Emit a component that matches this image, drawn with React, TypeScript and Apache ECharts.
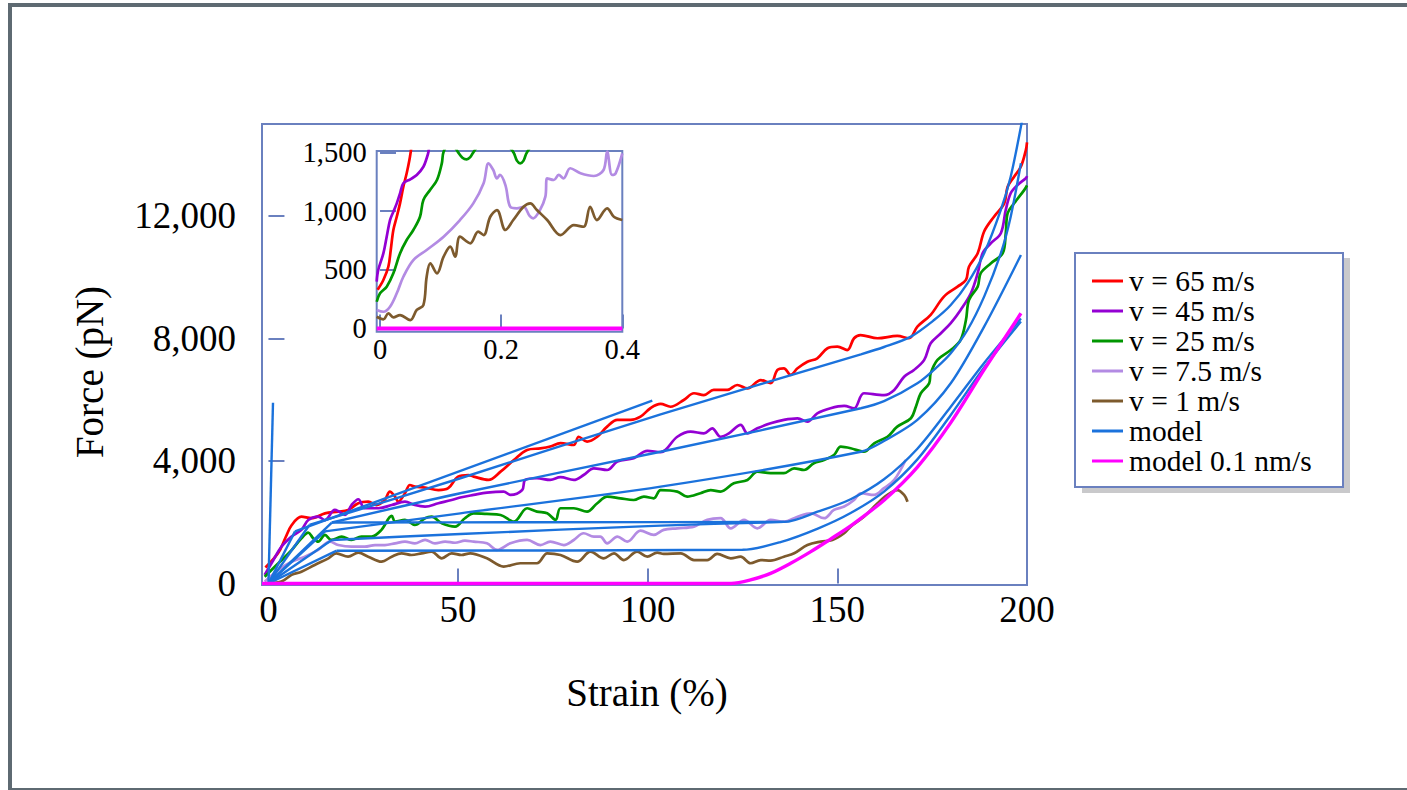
import React, { useEffect, useRef } from "react";
import * as echarts from "echarts";

// ---------------- tick labels ----------------
const mainXTicks = [0, 50, 100, 150, 200];
const mainYTicks = [0, 4000, 8000, 12000];
const insetXTicks = [0, 0.2, 0.4];
const insetYTicks = [0, 500, 1000, 1500];

const seriesNames = ["v = 65 m/s", "v = 45 m/s", "v = 25 m/s", "v = 7.5 m/s", "v = 1 m/s", "model", "model 0.1 nm/s"];

// ---------------- main chart data: [strain %, force pN] ----------------
const v65: number[][] = [[-0.8,520],[2.6,1000],[4.5,1500],[6.1,1900],[8.7,2180],[11.3,2130],[14.9,2290],[18.4,2345],[21,2400],[23.7,2620],[26.3,2670],[28.5,2560],[30.7,2730],[32,3000],[33.4,2830],[34.2,2670],[36,2945],[37.3,3215],[38.6,3160],[41.3,3130],[44.8,3050],[47.4,3110],[50,3490],[52.7,3540],[54.1,3490],[58,3380],[61.2,3650],[64.7,4030],[68.2,4360],[71.7,4410],[74.3,4470],[77,4580],[80.5,4520],[81.8,4790],[84,4630],[86.7,4790],[89.3,5120],[92,5340],[95.5,5340],[98.1,5445],[100.7,5720],[103.4,5860],[106,5770],[109.5,5990],[112.2,6210],[114.8,6150],[117.4,6320],[121,6320],[123.6,6480],[126.3,6370],[129.8,6640],[132.4,6540],[134.2,6970],[135.9,7025],[137.7,6810],[139.5,7025],[142.1,7240],[144.7,7350],[147.4,7680],[150,7730],[152.6,7620],[154.4,8005],[156.1,8110],[160.6,8005],[165.8,8080],[168.9,8005],[171.1,8385],[174.6,8770],[178.1,9365],[181.7,9690],[183.9,9910],[184.7,10340],[187,10780],[188.7,11490],[191.3,11975],[194,12410],[194.9,12955],[196.6,13280],[198.4,13610],[199.7,14150],[200,14400]];
const v45: number[][] = [[-1,280],[1,700],[3.4,1200],[6.1,1530],[8.7,1750],[10.5,2070],[13.1,2180],[14.9,2070],[17.5,2400],[20.2,2240],[21.9,2560],[23.7,2750],[25.4,2455],[29,2455],[32.5,2560],[36,2670],[38.6,2560],[41.3,2510],[44.8,2620],[48.3,2725],[50.9,2815],[54.1,2890],[57.6,2965],[62,3000],[63.8,2890],[66.9,3050],[67.7,3380],[70.8,3435],[74.3,3380],[77,3470],[80.5,3380],[83.1,3540],[85.8,3760],[89.3,3705],[92,3980],[96.3,4090],[99.9,4330],[103.4,4290],[107.8,4790],[111.3,4955],[114.8,4900],[117,5065],[119.2,4790],[121.4,4900],[124.5,5175],[126.3,4900],[128.9,5065],[132.4,5230],[135.9,5340],[139.5,5390],[142.1,5280],[144.7,5555],[148.2,5720],[151.8,5795],[154.4,5720],[157,6210],[162.3,6150],[165,6320],[167.6,6750],[170.2,6970],[172.9,7300],[174.6,7840],[177.3,8170],[179.9,8500],[182.5,8930],[185.2,9475],[187,10130],[188.3,10780],[190.5,11110],[193.1,11435],[194.4,12195],[195.7,12740],[197.5,13010],[199.7,13230],[200,13300]];
const v25: number[][] = [[-1,220],[2.6,660],[6.1,1090],[8.7,1475],[10.5,1660],[11.8,1475],[13.1,1365],[14.9,1585],[16.6,1420],[19.3,1530],[21.9,1420],[24.5,1530],[27.2,1530],[29.8,1750],[32.5,2205],[33.4,2020],[36,2075],[38.6,1910],[41.3,2130],[43,2180],[45.7,1965],[49.2,1855],[51.8,2130],[54.1,2290],[57.6,2270],[61.2,2235],[64.7,2020],[68.2,2455],[70.8,2345],[73.5,2290],[75.7,2075],[77,2455],[80.5,2455],[84,2345],[86.7,2620],[89.3,2835],[92.8,2780],[96.3,2725],[99,2835],[101.6,2780],[103.4,3050],[107.8,3000],[110.4,2835],[113.9,2945],[116.6,3050],[119.2,3000],[122.7,3270],[126.3,3380],[128.9,3650],[132.4,3600],[135.9,3600],[138.6,3760],[141.2,3705],[143.8,3925],[146.5,4030],[149.1,4195],[150.9,4465],[153.5,4415],[157,4300],[159.7,4575],[163.2,4790],[165.8,5120],[169.4,5395],[170.7,5770],[172,6210],[174.2,6535],[174.6,6860],[176.4,7300],[179.9,7620],[182.5,7950],[183.9,8600],[184.7,9255],[187,9690],[187.8,10130],[190.5,10455],[193.6,10780],[194.4,11435],[194.9,12090],[196.6,12410],[199.3,12850],[200,13000]];
const v7_5: number[][] = [[-1,60],[2.6,440],[6.1,710],[9.6,875],[13.1,1095],[16.2,1365],[18.4,1255],[21.9,1200],[25.4,1200],[28.1,1255],[30.7,1255],[33.4,1310],[36,1365],[38.6,1310],[41.3,1420],[43.9,1310],[46.6,1365],[49.2,1330],[51.8,1400],[54.1,1365],[57.6,1310],[60.3,1095],[63.8,1310],[68.2,1420],[71.7,1255],[74.3,1365],[77.9,1255],[80.5,1420],[83.1,1640],[85.8,1530],[87.5,1530],[89.3,1310],[92,1530],[94.6,1365],[98.1,1725],[101.6,1585],[104.2,1750],[107.8,1800],[112.2,1855],[115.7,2075],[119.2,2130],[121.9,1800],[125.4,2075],[128.9,1800],[132.4,2075],[135.9,2020],[139.5,2180],[143,2290],[146.5,2130],[149.1,2400],[151.8,2510],[154.4,2725],[156.2,2945],[159.7,2890],[162.3,3110],[165,3380],[168,4030]];
const v1: number[][] = [[-1,0],[3.4,60],[6.1,280],[8.7,385],[12.2,605],[15.8,820],[17.9,985],[21,875],[23.7,1005],[26.3,875],[29.8,710],[32.5,875],[35.1,985],[37.7,930],[40.4,985],[43,1040],[45.7,820],[48.3,985],[50.9,930],[53.2,985],[57.6,820],[62,550],[66.4,660],[70.8,660],[73.5,985],[77,930],[81.4,710],[84.9,1040],[88.4,820],[91.1,985],[93.7,765],[97.2,1040],[99.9,875],[102.5,1005],[104.2,965],[108.7,985],[112.2,765],[115.7,765],[118.3,965],[121.9,820],[124.5,875],[127.1,660],[129.8,765],[132.4,745],[135.9,875],[138.6,985],[142.1,1255],[145.6,1365],[148.7,1420],[151.8,1640],[153.5,1855],[157,2180],[160.6,2620],[163.2,2890],[165.8,3050],[167.6,2890],[168.5,2670]];
const slowModel: number[][] = [[-1.7,0],[122,0],[127.1,115],[132.4,330],[137.7,660],[143,1040],[148.2,1450],[153.5,1880],[162.3,2720],[171.1,3800],[179.9,5250],[188.7,6980],[198.4,8820]];

// model curves: initial linear rise, then the rest
const modelSteep: number[][] = [[0,0],[1.2,5900]];
const modelTopRise: number[][] = [[0,0],[7,1700]];
const modelTopRest: number[][] = [[7,1700],[101.2,5970]];
const model65Rise: number[][] = [[0,0],[10.8,1910]];
const model65Rest: number[][] = [[10.8,1910],[50.6,3435],[103.4,5520],[156.2,7480],[162.3,7720],[169.4,8060],[175.5,8600],[179.9,9090],[184.3,9800],[188.7,10780],[193.1,12195],[195.7,13280],[198.4,14915],[199.3,15600]];
const model45Rise: number[][] = [[0,0],[16.7,1990]];
const model45Rest: number[][] = [[16.7,1990],[50.6,2945],[103.4,4300],[156.2,5720],[162.3,5950],[171.1,6535],[176.4,7080],[179.9,7515],[184.3,8275],[188.7,9365],[193.1,10780],[195.7,11975],[198.4,13720]];
const model25Rise: number[][] = [[0,0],[14.9,1700]];
const model25Rest: number[][] = [[14.9,1700],[50.6,2290],[103.4,3160],[156.2,4300],[162.3,4650],[171.1,5340],[179.9,6535],[188.7,8385],[198.4,10725]];
const modelFlatRest: number[][] = [[16.7,1990],[70,2000],[136,2010],[145,2350],[153.5,2750],[162.3,3400],[171.1,4400],[179.9,5770],[188.7,7200],[198.4,8650]];
const model7_5Rise: number[][] = [[0,0],[16.7,1420]];
const model7_5Rest: number[][] = [[16.7,1420],[50.6,1615],[103.4,1890],[136,2010]];
const model1Rise: number[][] = [[0,0],[18,1070]];
const model1Rest: number[][] = [[18,1070],[125,1100],[135,1350],[145,1800],[153.5,2300],[162.3,3000],[171.1,4050],[179.9,5500],[188.7,7050],[198.4,8550]];

// ---------------- inset data ----------------
const in65: number[][] = [[-0.004,330],[0.0055,413],[0.0137,526],[0.0177,669],[0.022,839],[0.0276,952],[0.033,1066],[0.0385,1208],[0.044,1322],[0.0485,1435],[0.0507,1506],[0.056,1700],[0.065,2000]];
const in45: number[][] = [[-0.0055,400],[-0.003,498],[0.0055,640],[0.011,782],[0.0165,924],[0.022,995],[0.0276,1066],[0.033,1151],[0.0385,1237],[0.05,1271],[0.0606,1307],[0.0716,1378],[0.077,1450],[0.08,1506],[0.085,1700],[0.1,2000]];
const in25: number[][] = [[-0.0055,228],[0,300],[0.011,356],[0.022,470],[0.033,640],[0.044,754],[0.055,839],[0.066,952],[0.0716,1095],[0.0826,1180],[0.094,1265],[0.102,1407],[0.105,1506],[0.115,1580],[0.124,1540],[0.129,1500],[0.136,1455],[0.143,1441],[0.149,1460],[0.154,1500],[0.165,1570],[0.19,1600],[0.21,1560],[0.2204,1500],[0.226,1430],[0.2314,1407],[0.237,1430],[0.2425,1500],[0.26,1600],[0.4,1700]];
const in7_5: number[][] = [[-0.0055,158],[0.0055,143],[0.0165,186],[0.0276,300],[0.0385,441],[0.055,583],[0.077,669],[0.105,782],[0.132,924],[0.154,1066],[0.171,1237],[0.179,1407],[0.187,1350],[0.193,1279],[0.198,1308],[0.207,1222],[0.215,1037],[0.226,1024],[0.237,1037],[0.247,960],[0.253,939],[0.264,1009],[0.273,1123],[0.276,1279],[0.287,1265],[0.295,1308],[0.303,1279],[0.314,1365],[0.331,1322],[0.353,1299],[0.369,1350],[0.375,1506],[0.383,1308],[0.389,1322],[0.4,1492]];
const in1: number[][] = [[-0.0055,100],[0.0055,78],[0.0137,129],[0.022,95],[0.033,115],[0.05,72],[0.0606,158],[0.0716,200],[0.077,441],[0.083,555],[0.094,470],[0.105,612],[0.116,697],[0.124,612],[0.132,782],[0.149,726],[0.162,825],[0.171,796],[0.182,952],[0.193,1009],[0.207,839],[0.22,924],[0.237,1037],[0.248,1066],[0.259,1009],[0.276,924],[0.298,796],[0.32,881],[0.336,867],[0.347,1037],[0.358,924],[0.375,1024],[0.386,952],[0.4,924]];
const inSlow: number[][] = [[-0.0055,0],[0.4,0]];

// ---------------- styling ----------------
const FONT = '"Liberation Serif", "Times New Roman", serif';
const FRAME = "#6a80bf";
const C = {
  red: "#ff0000",
  purple: "#9400d3",
  green: "#009600",
  lavender: "#b38be3",
  brown: "#7d5a2d",
  blue: "#1b72dc",
  magenta: "#ff00ff",
};

const commas = (v: number) => String(v).replace(/\B(?=(\d{3})+(?!\d))/g, ",");

function line(name: string, data: number[][], color: string, width: number, idx: number, smooth: number | boolean, z = 2) {
  return {
    type: "line",
    name,
    data,
    xAxisIndex: idx,
    yAxisIndex: idx,
    showSymbol: false,
    symbol: "none",
    smooth,
    color,
    itemStyle: { color },
    lineStyle: { color, width },
    clip: true,
    silent: true,
    z,
  };
}

export default function App() {
  const ref = useRef<HTMLDivElement>(null);

  useEffect(() => {
    if (!ref.current) return;
    const chart = echarts.init(ref.current, undefined, { renderer: "svg" });

    const axisCommon = {
      type: "value",
      axisLine: { show: false },
      splitLine: { show: false },
    };

    const DW = 2.7; // data line width
    const MW = 2.4; // model line width

    const option = {
      animation: false,
      backgroundColor: "transparent",
      grid: [
        { left: 262, top: 124, width: 765, height: 461, show: true, borderColor: FRAME, borderWidth: 2, backgroundColor: "transparent" },
        { left: 376.7, top: 151, width: 245.6, height: 180.7, show: true, borderColor: FRAME, borderWidth: 2, backgroundColor: "#fff" },
      ],
      xAxis: [
        {
          ...axisCommon,
          gridIndex: 0,
          min: -1.7,
          max: 200,
          axisTick: { show: true, inside: true, length: 15, lineStyle: { color: FRAME, width: 2 }, customValues: mainXTicks },
          axisLabel: { customValues: mainXTicks, fontFamily: FONT, fontSize: 37, color: "#000", margin: 6 },
        },
        {
          ...axisCommon,
          gridIndex: 1,
          min: -0.0055,
          max: 0.4,
          axisTick: { show: true, inside: true, length: 14, lineStyle: { color: FRAME, width: 2 }, customValues: insetXTicks },
          axisLabel: { customValues: insetXTicks, fontFamily: FONT, fontSize: 28.5, color: "#000", margin: 3, formatter: (v: number) => String(v) },
        },
      ],
      yAxis: [
        {
          ...axisCommon,
          gridIndex: 0,
          min: -50,
          max: 15000,
          axisTick: { show: true, inside: true, length: 16, lineStyle: { color: FRAME, width: 2 }, customValues: mainYTicks },
          axisLabel: { customValues: mainYTicks, fontFamily: FONT, fontSize: 37, color: "#000", margin: 26, formatter: commas },
        },
        {
          ...axisCommon,
          gridIndex: 1,
          min: -27,
          max: 1512,
          axisTick: { show: true, inside: true, length: 16, lineStyle: { color: FRAME, width: 2 }, customValues: insetYTicks },
          axisLabel: { customValues: insetYTicks, fontFamily: FONT, fontSize: 28.5, color: "#000", margin: 10, formatter: commas },
        },
      ],
      legend: {
        data: seriesNames,
        orient: "vertical",
        left: 1092,
        top: 266,
        padding: 0,
        itemGap: 0,
        itemWidth: 31,
        itemHeight: 3,
        icon: "rect",
        selectedMode: false,
        textStyle: { fontFamily: FONT, fontSize: 29.5, lineHeight: 28.8, color: "#000", padding: [0, 0, 0, 1] },
      },
      graphic: [
        { type: "rect", z: 0, shape: { x: 1082, y: 258, width: 268, height: 235 }, style: { fill: "#c9c9cb" }, silent: true },
        { type: "rect", z: 1, shape: { x: 1075, y: 253, width: 268, height: 234 }, style: { fill: "#fff", stroke: FRAME, lineWidth: 2 }, silent: true },
        { type: "text", x: 647, y: 692, style: { text: "Strain (%)", fontFamily: FONT, fontSize: 39, fill: "#000", align: "center", verticalAlign: "middle" }, silent: true },
        { type: "text", x: 89, y: 372, rotation: Math.PI / 2, style: { text: "Force (pN)", fontFamily: FONT, fontSize: 39, fill: "#000", align: "center", verticalAlign: "middle" }, silent: true },
      ],
      series: [
        line(seriesNames[0], v65, C.red, DW, 0, 0.35),
        line(seriesNames[1], v45, C.purple, DW, 0, 0.35),
        line(seriesNames[2], v25, C.green, DW, 0, 0.35),
        line(seriesNames[3], v7_5, C.lavender, DW, 0, 0.35),
        line(seriesNames[4], v1, C.brown, DW, 0, 0.35),
        line("model", modelSteep, C.blue, MW, 0, false, 3),
        line("model", modelTopRise, C.blue, MW, 0, false, 3),
        line("model", modelTopRest, C.blue, MW, 0, false, 3),
        line("model", model65Rise, C.blue, MW, 0, false, 3),
        line("model", model65Rest, C.blue, MW, 0, 0.3, 3),
        line("model", model45Rise, C.blue, MW, 0, false, 3),
        line("model", model45Rest, C.blue, MW, 0, 0.3, 3),
        line("model", model25Rise, C.blue, MW, 0, false, 3),
        line("model", model25Rest, C.blue, MW, 0, 0.3, 3),
        line("model", modelFlatRest, C.blue, MW, 0, 0.3, 3),
        line("model", model7_5Rise, C.blue, MW, 0, false, 3),
        line("model", model7_5Rest, C.blue, MW, 0, 0.3, 3),
        line("model", model1Rise, C.blue, MW, 0, false, 3),
        line("model", model1Rest, C.blue, MW, 0, 0.3, 3),
        line(seriesNames[6], slowModel, C.magenta, 3.4, 0, 0.3, 4),
        line(seriesNames[0], in65, C.red, DW, 1, 0.35),
        line(seriesNames[1], in45, C.purple, DW, 1, 0.35),
        line(seriesNames[2], in25, C.green, DW, 1, 0.35),
        line(seriesNames[3], in7_5, C.lavender, DW, 1, 0.35),
        line(seriesNames[4], in1, C.brown, DW, 1, 0.35),
        line(seriesNames[6], inSlow, C.magenta, 4, 1, false, 4),
      ],
    };

    chart.setOption(option as any);
    return () => chart.dispose();
  }, []);

  return (
    <div style={{ position: "fixed", left: 0, top: 0, width: 1407, height: 790, overflow: "hidden", background: "#fff" }}>
      <div
        style={{
          position: "absolute",
          left: 8,
          top: 3,
          width: 1500,
          height: 789,
          boxSizing: "border-box",
          border: "4px solid #5e6a72",
        }}
      />
      <div ref={ref} style={{ position: "absolute", left: 0, top: 0, width: 1407, height: 790 }} />
    </div>
  );
}
